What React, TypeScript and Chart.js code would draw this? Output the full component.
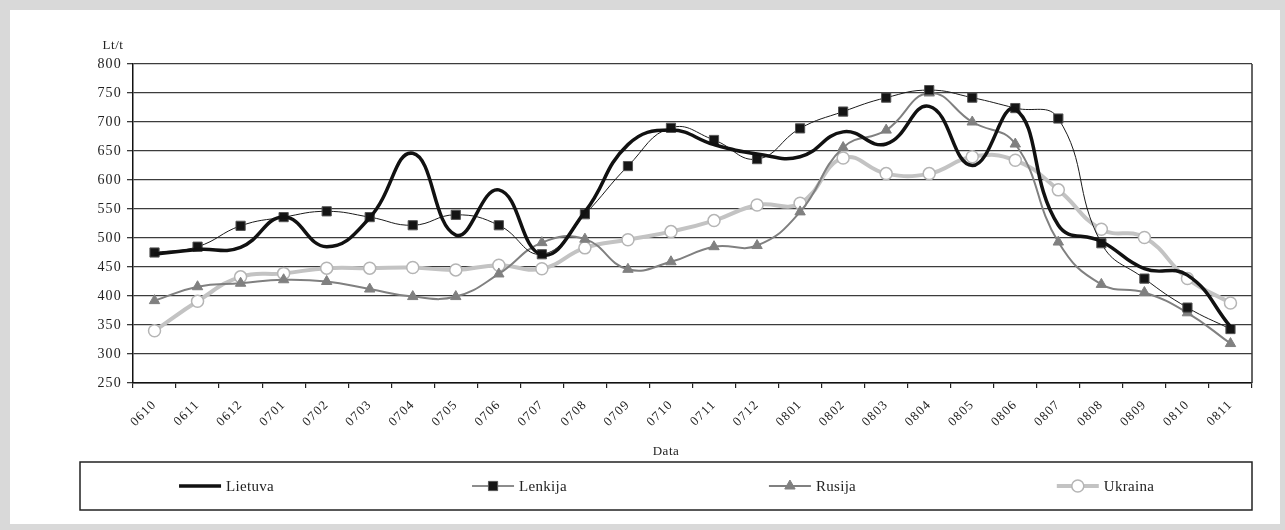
import React, { useEffect, useRef } from "react";
import { Chart, registerables } from "chart.js";

Chart.register(...registerables);

const categories = ["0610","0611","0612","0701","0702","0703","0704","0705","0706","0707","0708","0709","0710","0711","0712","0801","0802","0803","0804","0805","0806","0807","0808","0809","0810","0811"];

const lietuva = [472, 480, 484, 536, 485, 535, 646, 505, 583, 471, 545, 661, 686, 661, 645, 640, 683, 662, 727, 625, 722, 522, 494, 447, 436, 347];
const lenkija = [475, 485, 521, 536, 546, 536, 522, 540, 522, 472, 541, 624, 690, 669, 636, 689, 718, 742, 755, 742, 724, 706, 491, 430, 380, 343];
const rusija = [392, 416, 422, 428, 425, 412, 399, 399, 438, 492, 498, 446, 459, 485, 487, 545, 656, 686, 750, 700, 662, 493, 420, 406, 371, 318];
const ukraina = [340, 391, 433, 439, 448, 448, 449, 445, 453, 447, 483, 497, 511, 530, 557, 560, 638, 611, 611, 640, 634, 583, 515, 501, 430, 388];

const seriesNames = ["Lietuva", "Lenkija", "Rusija", "Ukraina"];
const yTitle = "Lt/t";
const xTitle = "Data";

const FONT = "'Liberation Serif', 'Times New Roman', serif";

function drawMarker(ctx: CanvasRenderingContext2D, style: string, x: number, y: number, r: number, fill: string, stroke: string, bw: number) {
  ctx.save();
  ctx.fillStyle = fill;
  ctx.strokeStyle = stroke;
  ctx.lineWidth = bw;
  ctx.beginPath();
  if (style === "rect") {
    const s = Math.SQRT1_2 * r;
    ctx.rect(x - s, y - s, 2 * s, 2 * s);
  } else if (style === "triangle") {
    ctx.moveTo(x, y - r);
    ctx.lineTo(x + r * 0.866, y + r * 0.5);
    ctx.lineTo(x - r * 0.866, y + r * 0.5);
    ctx.closePath();
  } else if (style === "circle") {
    ctx.arc(x, y, r, 0, Math.PI * 2);
  }
  ctx.fill();
  if (bw > 0) ctx.stroke();
  ctx.restore();
}

const extrasPlugin = {
  id: "extras",
  beforeDraw(chart: any) {
    (chart.ctx as any).letterSpacing = "1.2px";
  },
  beforeDatasetsDraw(chart: any) {
    (chart.ctx as any).letterSpacing = "0px";
  },
  afterDraw(chart: any) {
    const ctx: CanvasRenderingContext2D = chart.ctx;
    const area = chart.chartArea;
    ctx.save();
    (ctx as any).letterSpacing = "0.5px";
    // right frame line
    ctx.strokeStyle = "#333";
    ctx.lineWidth = 1.5;
    ctx.beginPath();
    ctx.moveTo(area.right, area.top);
    ctx.lineTo(area.right, area.bottom);
    ctx.stroke();
    // titles
    ctx.fillStyle = "#222";
    ctx.font = "13px " + FONT;
    ctx.textAlign = "center";
    ctx.textBaseline = "middle";
    ctx.fillText(yTitle, area.left - 20, area.top - 18);
    ctx.fillText(xTitle, 666, 452);
    // legend box
    const bx = 80, by = 462, bw = 1172, bh = 48;
    ctx.strokeStyle = "#222";
    ctx.lineWidth = 1.5;
    ctx.strokeRect(bx, by, bw, bh);
    ctx.font = "15px " + FONT;
    (ctx as any).letterSpacing = "0.3px";
    ctx.textAlign = "left";
    const ly = by + bh / 2;
    chart.data.datasets.forEach((ds: any, i: number) => {
      const cx = bx + (bw / 4) * (i + 0.5);
      const tw = ctx.measureText(ds.label).width;
      const sw = 42;
      const total = sw + 5 + tw;
      const sx = cx - total / 2;
      ctx.strokeStyle = ds.borderColor;
      ctx.lineWidth = ds.borderWidth;
      ctx.beginPath();
      ctx.moveTo(sx, ly);
      ctx.lineTo(sx + sw, ly);
      ctx.stroke();
      if (ds.pointRadius > 0) {
        drawMarker(ctx, ds.pointStyle, sx + sw / 2, ly, ds.pointRadius, ds.pointBackgroundColor, ds.pointBorderColor, ds.pointBorderWidth);
      }
      ctx.fillStyle = "#222";
      ctx.fillText(ds.label, sx + sw + 5, ly + 1);
    });
    ctx.restore();
  },
};

export default function App() {
  const ref = useRef<HTMLCanvasElement | null>(null);

  useEffect(() => {
    document.body.style.margin = "0";
    if (!ref.current) return;
    const chart = new Chart(ref.current, {
      type: "line",
      data: {
        labels: categories,
        datasets: [
          {
            label: seriesNames[0],
            data: lietuva,
            borderColor: "#111111",
            borderWidth: 3.5,
            pointRadius: 0,
            pointStyle: "circle",
            pointBackgroundColor: "#111",
            pointBorderColor: "#111",
            pointBorderWidth: 0,
            tension: 0.45,
          },
          {
            label: seriesNames[1],
            data: lenkija,
            borderColor: "#1a1a1a",
            borderWidth: 1,
            pointRadius: 6.5,
            pointStyle: "rect",
            pointBackgroundColor: "#151515",
            pointBorderColor: "#555555",
            pointBorderWidth: 1,
            tension: 0.45,
          },
          {
            label: seriesNames[2],
            data: rusija,
            borderColor: "#808080",
            borderWidth: 2,
            pointRadius: 6,
            pointStyle: "triangle",
            pointBackgroundColor: "#808080",
            pointBorderColor: "#808080",
            pointBorderWidth: 1,
            tension: 0.45,
          },
          {
            label: seriesNames[3],
            data: ukraina,
            borderColor: "#c3c3c3",
            borderWidth: 4,
            pointRadius: 6,
            pointStyle: "circle",
            pointBackgroundColor: "#ffffff",
            pointBorderColor: "#b5b5b5",
            pointBorderWidth: 1.5,
            tension: 0.45,
          },
        ] as any,
      },
      options: {
        responsive: false,
        animation: false,
        events: [],
        layout: { padding: { left: 0, top: 64, right: 33, bottom: 67 } },
        plugins: { legend: { display: false }, tooltip: { enabled: false } },
        scales: {
          x: {
            type: "category",
            offset: true,
            grid: { offset: true, drawOnChartArea: false, drawTicks: true, tickLength: 5, color: "#222", lineWidth: 1.2 },
            border: { display: true, color: "#111", width: 1.5 },
            ticks: {
              autoSkip: false,
              minRotation: 45,
              maxRotation: 45,
              padding: 9,
              color: "#222",
              font: { family: FONT, size: 13 },
            },
            afterFit(scale: any) {
              scale.height = 80;
            },
          },
          y: {
            min: 250,
            max: 800,
            ticks: {
              stepSize: 50,
              padding: 5,
              color: "#222",
              font: { family: FONT, size: 14 },
            },
            grid: { color: "#3c3c3c", lineWidth: 1.3, tickLength: 6, drawTicks: true },
            border: { display: true, color: "#111", width: 1.5 },
            afterFit(scale: any) {
              scale.width = 133;
            },
          },
        },
      },
      plugins: [extrasPlugin],
    });
    return () => chart.destroy();
  }, []);

  return (
    <div style={{ position: "relative", width: 1285, height: 530, background: "#d9d9d9", overflow: "hidden" }}>
      <div style={{ position: "absolute", left: 10, top: 10, width: 1270, height: 514, background: "#ffffff" }} />
      <canvas ref={ref} width={1285} height={530} style={{ position: "absolute", left: 0, top: 0 }} />
    </div>
  );
}
